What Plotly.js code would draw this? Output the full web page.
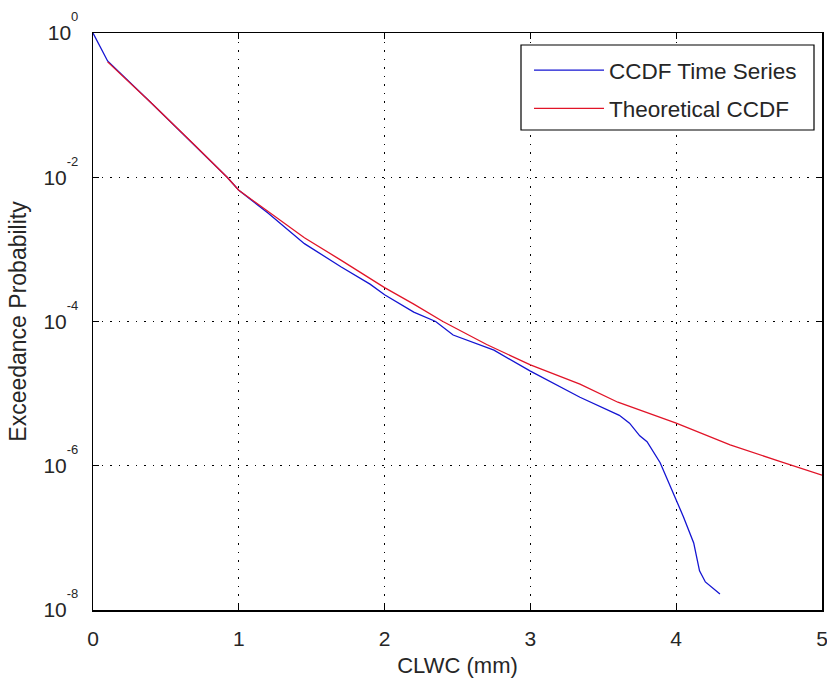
<!DOCTYPE html>
<html>
<head>
<meta charset="utf-8">
<script src="https://cdn.plot.ly/plotly-3.0.1.min.js"></script>
<style>
html, body { margin: 0; padding: 0; background: #fff; }
#chart { width: 827px; height: 682px; }
</style>
</head>
<body>
<div id="chart"></div>
<script>
// CCDF time series (blue)
const seriesX = [0, 0.1, 0.4, 0.7, 0.92, 1.0, 1.2, 1.45, 1.7, 1.9, 2.0, 2.2, 2.35, 2.47, 2.75, 3.0, 3.34, 3.61, 3.68, 3.75, 3.80, 3.89, 3.98, 4.05, 4.12, 4.16, 4.20, 4.30];
const seriesP = [1, 4.1e-1, 1.07e-1, 2.75e-2, 1.0e-2, 6.6e-3, 3.2e-3, 1.2e-3, 5.75e-4, 3.3e-4, 2.35e-4, 1.35e-4, 1.0e-4, 6.5e-5, 4.0e-5, 2.05e-5, 8.9e-6, 5.0e-6, 3.9e-6, 2.6e-6, 2.15e-6, 1.1e-6, 4.2e-7, 1.95e-7, 8.5e-8, 3.5e-8, 2.45e-8, 1.66e-8];

// Theoretical CCDF (red)
const theoryX = [0.1, 0.4, 0.7, 0.92, 1.0, 1.2, 1.45, 1.7, 1.9, 2.0, 2.2, 2.4, 2.7, 3.0, 3.34, 3.6, 4.0, 4.37, 4.71, 5.0];
const theoryP = [3.98e-1, 1.07e-1, 2.75e-2, 1.0e-2, 6.6e-3, 3.4e-3, 1.45e-3, 7.1e-4, 4.0e-4, 2.95e-4, 1.74e-4, 1.0e-4, 4.8e-5, 2.5e-5, 1.35e-5, 7.6e-6, 3.9e-6, 1.95e-6, 1.15e-6, 7.4e-7];

const seriesNames = ['CCDF Time Series', 'Theoretical CCDF'];
const xTicks = [0, 1, 2, 3, 4, 5];
const yTickVals = [1e-8, 1e-6, 1e-4, 1e-2, 1];
const yExponents = ['-8', '-6', '-4', '-2', '0'];

const FONT = '"Liberation Sans", Arial, Helvetica, sans-serif';
const TXT = '#262626';

const yTickText = yExponents.map(e =>
  '10<span style="font-size:13px;baseline-shift:19px">' + e + '</span>');

const traces = [
  { x: seriesX, y: seriesP, name: seriesNames[0], type: 'scatter', mode: 'lines',
    line: { color: 'rgb(20,20,210)', width: 1.3 }, legendgroup: 'a' },
  { x: theoryX, y: theoryP, name: seriesNames[1], type: 'scatter', mode: 'lines',
    line: { color: 'rgb(225,20,40)', width: 1.3 }, legendgroup: 'b' }
];

const W = 827, H = 682;
const L = 93, R = 5, T = 33, B = 72;
const pw = W - L - R, ph = H - T - B;
const px = v => (v - L) / pw;
const py = v => (H - B - v) / ph;

const axisCommon = {
  showline: true, linecolor: '#000', linewidth: 1.5, mirror: 'ticks',
  ticks: 'inside', ticklen: 6, tickwidth: 1.2, tickcolor: '#000',
  showgrid: true, gridcolor: '#000', gridwidth: 1, griddash: '1.5px,7px',
  zeroline: false, ticklabeloverflow: 'allow',
  tickfont: { family: FONT, size: 21, color: TXT }
};

const layout = {
  width: W, height: H,
  margin: { l: L, r: R, t: T, b: B, pad: 0 },
  paper_bgcolor: '#fff', plot_bgcolor: '#fff',
  font: { family: FONT, color: TXT },
  showlegend: true,
  xaxis: Object.assign({}, axisCommon, {
    range: [0, 5], tickvals: xTicks, ticklabelstandoff: 9,
    title: { text: 'CLWC (mm)', font: { family: FONT, size: 22, color: TXT }, standoff: 9 }
  }),
  yaxis: Object.assign({}, axisCommon, {
    type: 'log', range: [-8, 0], tickvals: yTickVals, ticktext: yTickText, ticklabelstandoff: 9,
    title: { text: 'Exceedance Probability', font: { family: FONT, size: 23, color: TXT }, standoff: 10 }
  }),
  legend: {
    x: px(529), y: py(49), xanchor: 'left', yanchor: 'top',
    bgcolor: 'rgba(0,0,0,0)', borderwidth: 0, itemwidth: 70, tracegroupgap: 6,
    font: { family: FONT, size: 22.5, color: TXT }
  },
  shapes: [{
    type: 'rect', xref: 'paper', yref: 'paper', layer: 'above',
    x0: px(521), x1: px(814), y0: py(130), y1: py(45),
    line: { color: '#000', width: 1.2 }, fillcolor: '#fff'
  }]
};

Plotly.newPlot('chart', traces, layout, { staticPlot: true, displayModeBar: false });
</script>
</body>
</html>
